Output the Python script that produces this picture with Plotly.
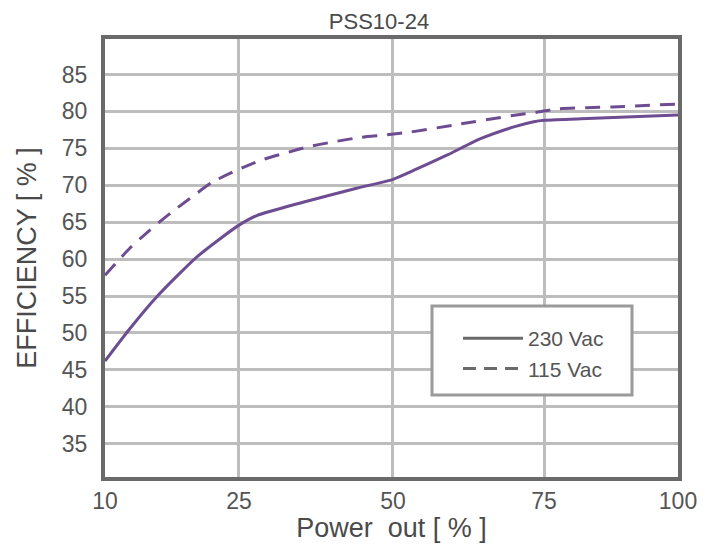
import numpy as np
import plotly.graph_objects as go

# ---- data ----
x_tick_labels = [10, 25, 50, 75, 100]
y_tick_values = [35, 40, 45, 50, 55, 60, 65, 70, 75, 80, 85]

power_230 = [10, 12.8, 15.8, 20.3, 25, 27.9, 35.4, 44.1, 50, 53.4, 59, 64.5, 70, 73.3, 75, 81.9, 100]
eff_230 = [46.2, 50.6, 54.9, 60.3, 64.6, 65.9, 67.7, 69.6, 70.8, 72.0, 74.1, 76.3, 77.9, 78.6, 78.8, 79.0, 79.5]

power_115 = [10, 12.8, 15, 17.3, 19.5, 22, 24.7, 28.6, 32.3, 36.2, 40.5, 44.9, 48.7, 52.9, 61.2, 69.5, 73.9, 77.8, 87.7, 100]
eff_115 = [57.8, 61.5, 63.9, 66.2, 68.2, 70.4, 72.0, 73.4, 74.3, 75.2, 75.9, 76.5, 76.8, 77.2, 78.3, 79.4, 79.9, 80.35, 80.6, 81.0]

series_names = ["230 Vac", "115 Vac"]

# ---- axis transform (the original x axis is unevenly gridded) ----
AXIS_POS = [0.0, 0.935, 2.010, 3.065, 4.0]


def to_axis(p):
    return np.interp(p, x_tick_labels, AXIS_POS)


PURPLE = "#6e4c91"
LEG_GRAY = "#6a6a6a"
FONT = "Liberation Sans"

fig = go.Figure()
fig.add_trace(go.Scatter(x=to_axis(power_230), y=eff_230, mode="lines",
                         line=dict(color=PURPLE, width=3, shape="spline", smoothing=0.6),
                         showlegend=False, hoverinfo="skip"))
fig.add_trace(go.Scatter(x=to_axis(power_115), y=eff_115, mode="lines",
                         line=dict(color=PURPLE, width=3, dash="15px,10px", shape="spline", smoothing=0.6),
                         showlegend=False, hoverinfo="skip"))
# legend entries (gray samples as in the original)
fig.add_trace(go.Scatter(x=[None], y=[None], mode="lines", name=series_names[0],
                         line=dict(color=LEG_GRAY, width=3)))
fig.add_trace(go.Scatter(x=[None], y=[None], mode="lines", name=series_names[1],
                         line=dict(color=LEG_GRAY, width=3, dash="13px,8px")))

# page geometry (the html body adds an 8px margin around the figure)
PAGE_W, PAGE_H, OFF = 707, 551, 8
L, R, T, B = 105, 29, 39, 74          # plot area edges in page pixels
W, H = PAGE_W - 2 * OFF, PAGE_H - 2 * OFF
pw, ph = PAGE_W - L - R, PAGE_H - T - B

# legend box
bx0, bx1, by0, by1 = 432, 632, 306, 395
fig.add_shape(type="rect", xref="paper", yref="paper",
              x0=(bx0 - L) / pw, x1=(bx1 - L) / pw,
              y0=(PAGE_H - B - by1) / ph, y1=(PAGE_H - B - by0) / ph,
              fillcolor="white", line=dict(color="#9a9a9a", width=3), layer="above")

tick_font = dict(family=FONT, size=23, color="#555555")
title_font = dict(family=FONT, size=27, color="#4a4a4a")

fig.update_layout(
    width=W, height=H,
    margin=dict(l=L - OFF, r=R - OFF, t=T - OFF, b=B - OFF, autoexpand=False),
    paper_bgcolor="white", plot_bgcolor="white",
    title=dict(text="PSS10-24", x=(379 - OFF) / W, xref="container", xanchor="center",
               y=1 - (21 - OFF) / H, yref="container", yanchor="middle",
               font=dict(family=FONT, size=22, color="#4a4a4a")),
    legend=dict(x=(458 - L) / pw, y=(PAGE_H - B - 318) / ph, xanchor="left", yanchor="top",
                bgcolor="rgba(0,0,0,0)", borderwidth=0, itemwidth=60,
                font=dict(family=FONT, size=21, color="#555555"),
                tracegroupgap=0),
    showlegend=True,
)

fig.update_xaxes(range=[0, 4], tickvals=AXIS_POS, ticktext=[str(v) for v in x_tick_labels],
                 showgrid=True, gridcolor="#bdbdbd", gridwidth=3,
                 showline=True, linecolor="#6a6a6a", linewidth=4, mirror=True,
                 ticks="", zeroline=False, tickfont=tick_font, ticklabelstandoff=0,
                 title=dict(text="Power\u00a0 out [ % ]", font=title_font, standoff=8),
                 automargin=False, fixedrange=True)
fig.update_yaxes(range=[30.5, 89.8], tickvals=y_tick_values,
                 showgrid=True, gridcolor="#bdbdbd", gridwidth=3,
                 showline=True, linecolor="#6a6a6a", linewidth=4, mirror=True,
                 ticks="", zeroline=False, tickfont=tick_font, ticklabelstandoff=9,
                 title=dict(text="EFFICIENCY [ % ]" + "\u00a0" * 8, font=title_font, standoff=18),
                 automargin=False, fixedrange=True)

fig.write_html("out.html")
